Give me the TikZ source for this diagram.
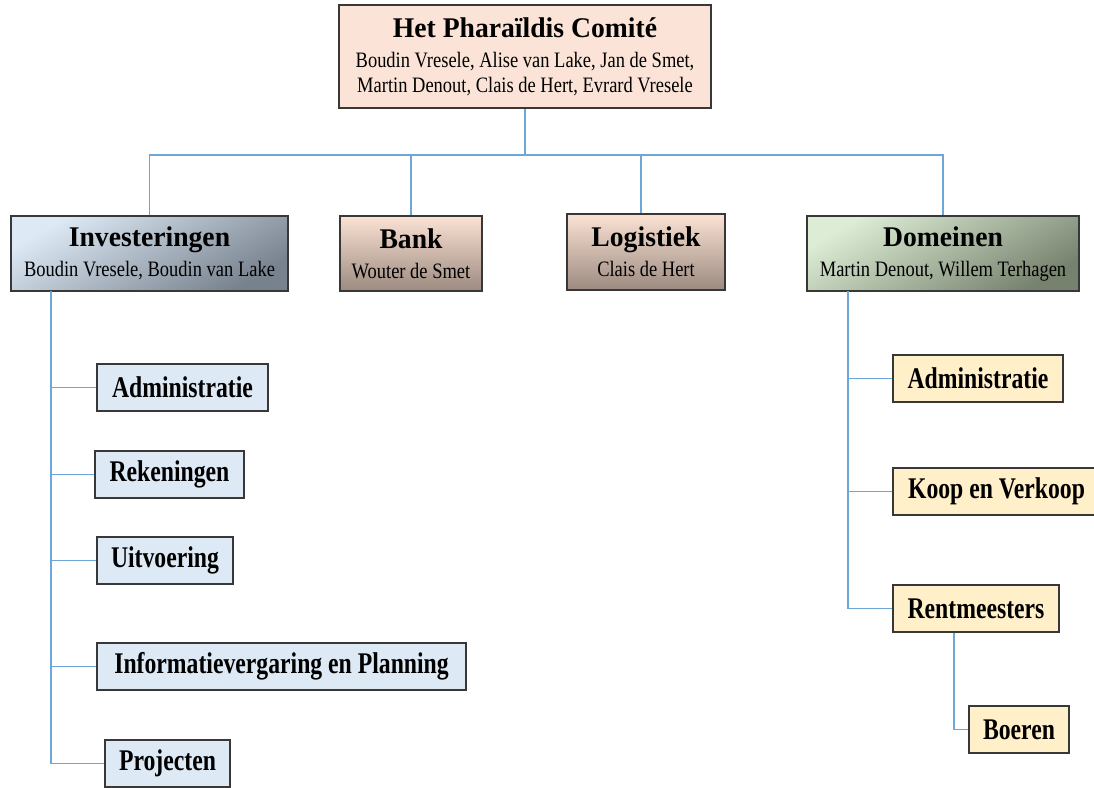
\documentclass[tikz,border=0pt]{standalone}
\usepackage{fontspec}
\setmainfont{Liberation Serif}[FakeStretch=0.84]
\newfontfamily\headfont{Liberation Serif}[FakeStretch=0.97]
\newfontfamily\unitfont{Liberation Serif}[FakeStretch=0.79]
\usepackage{tikz}
\usepackage{xcolor}
\usetikzlibrary{shadows}

\definecolor{linkblue}{HTML}{6FA6DA}
\definecolor{boxedge}{HTML}{383838}
\definecolor{comitefill}{HTML}{FBE4D7}
\definecolor{invlight}{HTML}{DDE9F5}
\definecolor{invdark}{HTML}{77828E}
\definecolor{banklight}{HTML}{FBE2D4}
\definecolor{bankdark}{HTML}{9C8A80}
\definecolor{domlight}{HTML}{DDEDD5}
\definecolor{domdark}{HTML}{77826E}
\definecolor{leftfill}{HTML}{DDE9F5}
\definecolor{rightfill}{HTML}{FFF0C9}

\newcommand{\boxtitle}[1]{{\headfont\bfseries\fontsize{28.5}{30}\selectfont #1}}

\begin{document}
\begin{tikzpicture}[x=1pt, y=-1pt,
  box/.style={draw=boxedge, line width=1.1pt, align=center, inner sep=0pt,
    drop shadow={shadow xshift=1.2pt, shadow yshift=-1.2pt, opacity=0.35}},
  head/.style={box, font=\fontsize{22}{25}\selectfont, minimum height=75pt},
  unit/.style={box, font=\unitfont\bfseries\fontsize{30}{32}\selectfont, minimum height=47pt},
  link/.style={draw=linkblue, line width=1.2pt}]
\useasboundingbox (0,0) rectangle (1094,787);
%----------------------------------------
\node[head, fill=comitefill, minimum width=372pt, minimum height=103pt] (comite) at (525,56.5)
  {\boxtitle{Het Pharaïldis Comité}\\[5pt] Boudin Vresele, Alise van Lake, Jan de Smet,\\ Martin Denout, Clais de Hert, Evrard Vresele};
\node[head, top color=invlight, bottom color=invdark, shading angle=30, minimum width=277pt] (inv) at (149.5,253.5)
  {\boxtitle{Investeringen}\\[5pt] Boudin Vresele, Boudin van Lake};
\node[head, top color=banklight, bottom color=bankdark, minimum width=142pt] (bank) at (411,253.5)
  {\boxtitle{Bank}\\[5pt] Wouter de Smet};
\node[head, top color=banklight, bottom color=bankdark, minimum width=158pt, minimum height=76pt] (logis) at (646,252)
  {\boxtitle{Logistiek}\\[5pt] Clais de Hert};
\node[head, top color=domlight, bottom color=domdark, shading angle=30, minimum width=272pt] (dom) at (943,253.5)
  {\boxtitle{Domeinen}\\[5pt] Martin Denout, Willem Terhagen};
%----------------------------------------
\node[unit, fill=leftfill, minimum width=171pt] (ladmin) at (182.5,387.5) {Administratie};
\node[unit, fill=leftfill, minimum width=149pt] (lreken) at (169.5,474.5) {Rekeningen};
\node[unit, fill=leftfill, minimum width=136pt] (luitv) at (165,560.5) {Uitvoering};
\node[unit, fill=leftfill, minimum width=369pt] (linfo) at (281.5,666.5) {Informatievergaring en Planning};
\node[unit, fill=leftfill, minimum width=125pt] (lproj) at (167.5,763.5) {Projecten};
%----------------------------------------
\node[unit, fill=rightfill, minimum width=170pt] (radmin) at (978,378.5) {Administratie};
\node[unit, fill=rightfill, minimum width=207pt] (rkoop) at (996.5,491.5) {Koop en Verkoop};
\node[unit, fill=rightfill, minimum width=166pt] (rrent) at (976,608.5) {Rentmeesters};
\node[unit, fill=rightfill, minimum width=100pt] (rboer) at (1019,729.5) {Boeren};
%----------------------------------------
\coordinate (bus) at (525,155);
\draw[link] (comite.south) -- (bus);
\draw[link] (inv.north) |- (dom.north |- bus) -- (dom.north);
\draw[link] (bank.north) -- (bank.north |- bus);
\draw[link] ([xshift=-5pt]logis.north) -- ([xshift=-5pt]logis.north |- bus);
%----------------------------------------
\coordinate (lspine) at (51,291);
\draw[link] (lspine) |- (lproj.west);
\foreach \n in {ladmin,lreken,luitv,linfo}
  \draw[link] (\n.west) -- (\n.west -| lspine);
\coordinate (rspine) at (848,291);
\draw[link] (rspine) |- (rrent.west);
\foreach \n in {radmin,rkoop}
  \draw[link] (\n.west) -- (\n.west -| rspine);
\draw[link] ([xshift=-22pt]rrent.south) |- (rboer.west);
\end{tikzpicture}
\end{document}
